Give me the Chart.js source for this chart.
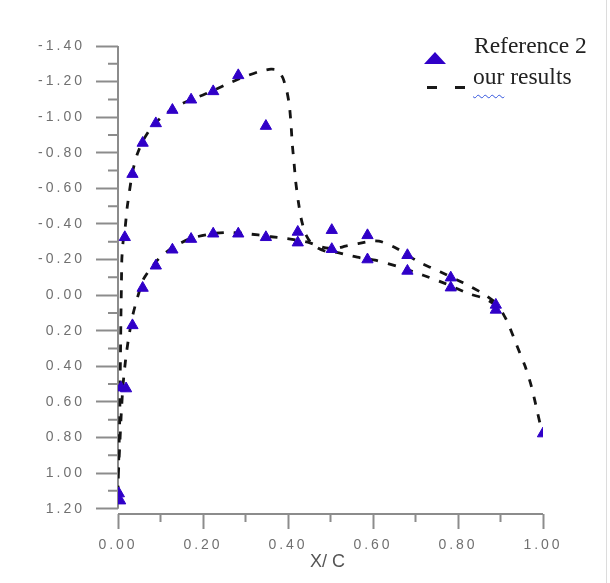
<!DOCTYPE html>
<html>
<head>
<meta charset="utf-8">
<script src="https://cdn.jsdelivr.net/npm/chart.js@4.4.0/dist/chart.umd.min.js"></script>
<style>
  body { margin: 0; background: #fff; }
  #wrap { position: relative; width: 610px; height: 583px; overflow: hidden; background: #fff; }
  #wrap canvas { position: absolute; left: 0; top: 0; }
  .edge { position: absolute; left: 606px; top: 0; width: 1px; height: 583px; background: #dcdcdc; }
  .leg { position: absolute; font-family: "Liberation Serif", "Times New Roman", serif; font-size: 23.5px; line-height: 1; color: #222; white-space: nowrap; }
  .tri { position: absolute; left: 424px; top: 52px; width: 0; height: 0;
         border-left: 11px solid transparent; border-right: 11px solid transparent; border-bottom: 12px solid #3000c8; }
  .dash { position: absolute; top: 86px; width: 10px; height: 2.5px; background: #1a1a1a; }
  .sq { text-decoration: underline wavy #3355dd; text-decoration-thickness: 1px; text-underline-offset: 10px; }
  .xtitle { position: absolute; left: 310px; top: 552px; font-family: "Liberation Sans", Arial, sans-serif;
            font-size: 18px; line-height: 1; color: #555; white-space: pre; }
</style>
</head>
<body>
<div id="wrap">
  <canvas id="cpChart" width="610" height="583"></canvas>
  <div class="edge"></div>
  <div class="tri"></div>
  <div class="leg" style="left:474px; top:34px;">Reference 2</div>
  <div class="dash" style="left:427px;"></div>
  <div class="dash" style="left:455px;"></div>
  <div class="leg" style="left:473px; top:65px;"><span class="sq">our</span> results</div>
  <div class="xtitle">X/ C</div>
</div>
<script>
// ---------------- data ----------------
// Reference 2 (triangles), lower surface
var refLowerX = [0.002, 0.005, 0.007, 0.019, 0.034, 0.058, 0.089, 0.128, 0.172, 0.224, 0.283, 0.348, 0.423, 0.503, 0.587, 0.681, 0.783, 0.889, 1.000];
var refLowerY = [1.115, 1.155, 0.520, 0.525, 0.170, -0.040, -0.165, -0.255, -0.315, -0.345, -0.345, -0.325, -0.295, -0.258, -0.200, -0.136, -0.042, 0.083, 0.778];
// Reference 2, upper surface
var refUpperX = [0.016, 0.034, 0.058, 0.089, 0.128, 0.172, 0.224, 0.283, 0.348, 0.423, 0.503, 0.587, 0.681, 0.783, 0.889];
var refUpperY = [-0.325, -0.680, -0.855, -0.965, -1.040, -1.098, -1.145, -1.235, -0.950, -0.355, -0.365, -0.336, -0.224, -0.098, 0.055];

// our results (dashed), lower surface from trailing edge back to leading edge
var ourLowerX = [0.885, 0.859, 0.812, 0.758, 0.707, 0.656, 0.620, 0.600, 0.565, 0.535, 0.510, 0.480, 0.450, 0.420, 0.390, 0.360, 0.330, 0.295, 0.260, 0.220, 0.170, 0.130, 0.100, 0.080, 0.060, 0.045, 0.035, 0.025, 0.018, 0.012, 0.008, 0.004, 0.001, 0.000];
var ourLowerY = [0.035, -0.009, -0.069, -0.131, -0.187, -0.262, -0.300, -0.305, -0.290, -0.275, -0.260, -0.270, -0.295, -0.310, -0.320, -0.328, -0.338, -0.347, -0.352, -0.345, -0.318, -0.270, -0.215, -0.160, -0.090, 0.020, 0.110, 0.240, 0.360, 0.500, 0.650, 0.850, 1.000, 1.100];
// our results, upper surface from leading edge to trailing edge
var ourUpperX = [0.002, 0.004, 0.005, 0.006, 0.007, 0.008, 0.009, 0.012, 0.016, 0.022, 0.034, 0.045, 0.058, 0.075, 0.089, 0.110, 0.128, 0.150, 0.172, 0.200, 0.224, 0.260, 0.295, 0.330, 0.360, 0.375, 0.388, 0.397, 0.403, 0.407, 0.410, 0.414, 0.418, 0.424, 0.431, 0.440, 0.452, 0.470, 0.490, 0.515, 0.540, 0.570, 0.605, 0.660, 0.718, 0.769, 0.828, 0.864, 0.890, 0.905, 0.918, 0.938, 0.958, 0.973, 0.985, 0.993, 1.000];
var ourUpperY = [0.900, 0.700, 0.500, 0.300, 0.100, -0.050, -0.200, -0.300, -0.360, -0.500, -0.690, -0.790, -0.865, -0.930, -0.970, -1.015, -1.045, -1.075, -1.100, -1.125, -1.150, -1.190, -1.225, -1.255, -1.270, -1.265, -1.220, -1.150, -1.070, -0.965, -0.850, -0.750, -0.640, -0.530, -0.430, -0.350, -0.300, -0.265, -0.245, -0.240, -0.225, -0.210, -0.197, -0.160, -0.112, -0.066, -0.006, 0.020, 0.060, 0.100, 0.160, 0.280, 0.400, 0.515, 0.637, 0.720, 0.770];

// axis ticks
var xTicks = [0, 0.2, 0.4, 0.6, 0.8, 1.0];
var yTicks = [-1.4, -1.2, -1.0, -0.8, -0.6, -0.4, -0.2, 0, 0.2, 0.4, 0.6, 0.8, 1.0, 1.2];
var xMinor = [0.1, 0.3, 0.5, 0.7, 0.9];
var yMinor = [-1.3, -1.1, -0.9, -0.7, -0.5, -0.3, -0.1, 0.1, 0.3, 0.5, 0.7, 0.9, 1.1];

function pts(xs, ys) {
    return xs.map(function (x, i) { return { x: x, y: ys[i] }; });
}

var refPoints = pts(refLowerX, refLowerY).concat(pts(refUpperX, refUpperY));
var ourPoints = pts(ourLowerX, ourLowerY).concat(pts(ourUpperX, ourUpperY));

var axisColor = "#8c8c8c";

// axis lines + minor ticks, and spaced-out tick labels
var axisPlugin = {
    id: "axisPlugin",
    beforeDraw: function (chart) {
        chart.ctx.letterSpacing = "3px";
    },
    beforeDatasetsDraw: function (chart) {
        var ctx = chart.ctx;
        var xs = chart.scales.x, ys = chart.scales.y;
        var left = xs.getPixelForValue(0);
        var bottom = ys.bottom;
        ctx.save();
        ctx.strokeStyle = axisColor;
        ctx.lineWidth = 2;
        ctx.beginPath();
        ctx.moveTo(left, ys.getPixelForValue(-1.4));
        ctx.lineTo(left, ys.getPixelForValue(1.2));
        ctx.moveTo(left, bottom);
        ctx.lineTo(xs.getPixelForValue(1), bottom);
        yMinor.forEach(function (v) {
            var p = ys.getPixelForValue(v);
            ctx.moveTo(left - 10, p);
            ctx.lineTo(left, p);
        });
        xMinor.forEach(function (v) {
            var p = xs.getPixelForValue(v);
            ctx.moveTo(p, bottom);
            ctx.lineTo(p, bottom + 8);
        });
        ctx.stroke();
        ctx.restore();
    }
};

var ctx = document.getElementById("cpChart");

new Chart(ctx, {
    type: "scatter",
    data: {
        datasets: [
            {
                label: "Reference 2",
                data: refPoints,
                pointStyle: "triangle",
                pointRadius: 6.5,
                pointBorderWidth: 1,
                backgroundColor: "#3000c8",
                borderColor: "#3000c8",
                order: 0
            },
            {
                label: "our results",
                data: ourPoints,
                showLine: true,
                pointRadius: 0,
                borderColor: "#141414",
                borderWidth: 2.8,
                borderDash: [8, 10],
                tension: 0.2,
                order: 1
            }
        ]
    },
    options: {
        responsive: false,
        animation: false,
        events: [],
        layout: {
            padding: { left: 0, right: 67, top: 46, bottom: 0 }
        },
        plugins: {
            legend: { display: false },
            tooltip: { enabled: false }
        },
        scales: {
            x: {
                type: "linear",
                min: 0,
                max: 1,
                afterBuildTicks: function (scale) {
                    scale.ticks = xTicks.map(function (v) { return { value: v }; });
                },
                afterFit: function (scale) { scale.height = 69; },
                ticks: {
                    callback: function (v) { return Number(v).toFixed(2); },
                    color: "#707070",
                    font: { family: "Liberation Sans", size: 14 },
                    padding: 8,
                    maxRotation: 0
                },
                grid: { drawOnChartArea: false, drawTicks: true, tickLength: 15, tickColor: axisColor, tickWidth: 2 },
                border: { display: false }
            },
            y: {
                type: "linear",
                reverse: true,
                min: -1.4,
                max: 1.23,
                afterBuildTicks: function (scale) {
                    scale.ticks = yTicks.map(function (v) { return { value: v }; });
                },
                afterFit: function (scale) { scale.width = 118; },
                ticks: {
                    callback: function (v) { return Number(v).toFixed(2); },
                    color: "#707070",
                    font: { family: "Liberation Sans", size: 14 },
                    padding: 11
                },
                grid: { drawOnChartArea: false, drawTicks: true, tickLength: 22, tickColor: axisColor, tickWidth: 2 },
                border: { display: false }
            }
        }
    },
    plugins: [axisPlugin]
});
</script>
</body>
</html>
